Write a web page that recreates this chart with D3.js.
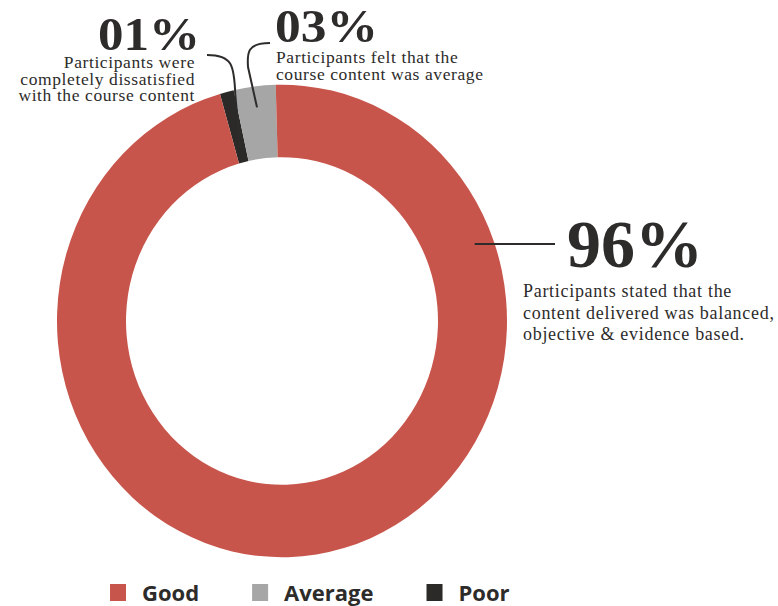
<!DOCTYPE html>
<html>
<head>
<meta charset="utf-8">
<script src="https://cdn.jsdelivr.net/npm/d3@7"></script>
<style>
  html, body { margin: 0; padding: 0; background: #ffffff; }
  svg { display: block; }
</style>
</head>
<body>
<svg id="chart" width="778" height="606"></svg>
<script>
// Course content feedback shares
const categories = ["Poor", "Average", "Good"];
const shares = [1, 3, 96];
const percentLabels = ["01%", "03%", "96%"];
const captions = [
  ["Participants were", "completely dissatisfied", "with the course content"],
  ["Participants felt that the", "course content was average"],
  ["Participants stated that the", "content delivered was balanced,", "objective & evidence based."]
];
const legendOrder = ["Good", "Average", "Poor"];

const colors = d3.scaleOrdinal()
  .domain(categories)
  .range(["#2b2a28", "#a6a6a6", "#c8554b"]);

const ink = "#2d2c2a";
const svg = d3.select("#chart");

// Ring geometry (slightly taller than wide)
const cx = 282, cy = 321, outerR = 225, innerR = 156, yStretch = 1.05;
const deg = Math.PI / 180;

const pie = d3.pie()
  .sort(null)
  .value(d => d)
  .startAngle(-16 * deg)
  .endAngle(344 * deg);

const arcs = pie(shares);
const arc = d3.arc().innerRadius(innerR).outerRadius(outerR);

const ring = svg.append("g")
  .attr("transform", `translate(${cx},${cy}) scale(1,${yStretch})`);

ring.selectAll("path.slice")
  .data(arcs)
  .join("path")
  .attr("class", "slice")
  .attr("d", arc)
  .attr("fill", (d, i) => colors(categories[i]));

// point on a slice at a given radius, in page coordinates
function slicePoint(a, r) {
  const m = (a.startAngle + a.endAngle) / 2;
  return [cx + r * Math.sin(m), cy - yStretch * r * Math.cos(m)];
}

const textFont = "'Liberation Serif', 'Times New Roman', serif";

// Leader lines
const leaders = svg.append("g")
  .attr("fill", "none")
  .attr("stroke", ink)
  .attr("stroke-width", 2);

// Poor: from the right end of its caption, curving down into the slice
{
  const [ex, ey] = slicePoint(arcs[0], 170);
  const sx = 207, sy = 55;
  leaders.append("path")
    .attr("d", `M${sx},${sy} C${ex - 8},${sy} ${ex - 6},${sy + 10} ${ex - 5},${sy + 40} L${ex},${ey}`);
}
// Average: from the left of its caption, curving down into the slice
{
  const [ex, ey] = slicePoint(arcs[1], 205);
  const sx = 270, sy = 43;
  leaders.append("path")
    .attr("d", `M${sx},${sy} C${ex - 10},${sy} ${ex - 10},${sy + 10} ${ex - 9},${sy + 24} L${ex},${ey}`);
}
// Good: straight horizontal line out to its label
{
  const ly = 244;
  const dy = (ly - cy) / yStretch;
  const x0 = cx + Math.sqrt(innerR * innerR - dy * dy) + 55;
  leaders.append("line")
    .attr("x1", x0).attr("y1", ly)
    .attr("x2", 555).attr("y2", ly);
}

// Percentage labels
const labels = svg.append("g")
  .attr("font-family", textFont)
  .attr("font-weight", "bold")
  .attr("fill", ink);

labels.append("text")
  .attr("x", 98).attr("y", 50)
  .attr("font-size", 46)
  .attr("textLength", 102)
  .attr("lengthAdjust", "spacingAndGlyphs")
  .text(percentLabels[0]);

labels.append("text")
  .attr("x", 275).attr("y", 42)
  .attr("font-size", 46)
  .attr("textLength", 103)
  .attr("lengthAdjust", "spacingAndGlyphs")
  .text(percentLabels[1]);

labels.append("text")
  .attr("x", 567).attr("y", 267)
  .attr("font-size", 68)
  .attr("textLength", 136)
  .attr("lengthAdjust", "spacingAndGlyphs")
  .text(percentLabels[2]);

// Captions
const caps = svg.append("g")
  .attr("font-family", textFont)
  .attr("letter-spacing", 0.6)
  .attr("fill", ink);

caps.append("text")
  .attr("text-anchor", "end")
  .attr("font-size", 17.5)
  .selectAll("tspan")
  .data(captions[0])
  .join("tspan")
  .attr("x", 195)
  .attr("y", (d, i) => 68 + i * 16.5)
  .text(d => d);

caps.append("text")
  .attr("font-size", 17.5)
  .selectAll("tspan")
  .data(captions[1])
  .join("tspan")
  .attr("x", 276)
  .attr("y", (d, i) => 63 + i * 16.5)
  .text(d => d);

caps.append("text")
  .attr("font-size", 18)
  .attr("letter-spacing", 0.7)
  .selectAll("tspan")
  .data(captions[2])
  .join("tspan")
  .attr("x", 523)
  .attr("y", (d, i) => 297 + i * 21.5)
  .text(d => d);

// Legend
const legend = svg.append("g")
  .attr("font-family", "'Open Sans', 'DejaVu Sans', sans-serif")
  .attr("font-weight", "bold")
  .attr("font-size", 22)
  .attr("fill", ink);

let lx = 110;
legendOrder.forEach(name => {
  legend.append("rect")
    .attr("x", lx).attr("y", 584)
    .attr("width", 16).attr("height", 17)
    .attr("fill", colors(name));
  const t = legend.append("text")
    .attr("x", lx + 32).attr("y", 601)
    .text(name);
  lx = lx + 32 + t.node().getComputedTextLength() + 53;
});
</script>
</body>
</html>
